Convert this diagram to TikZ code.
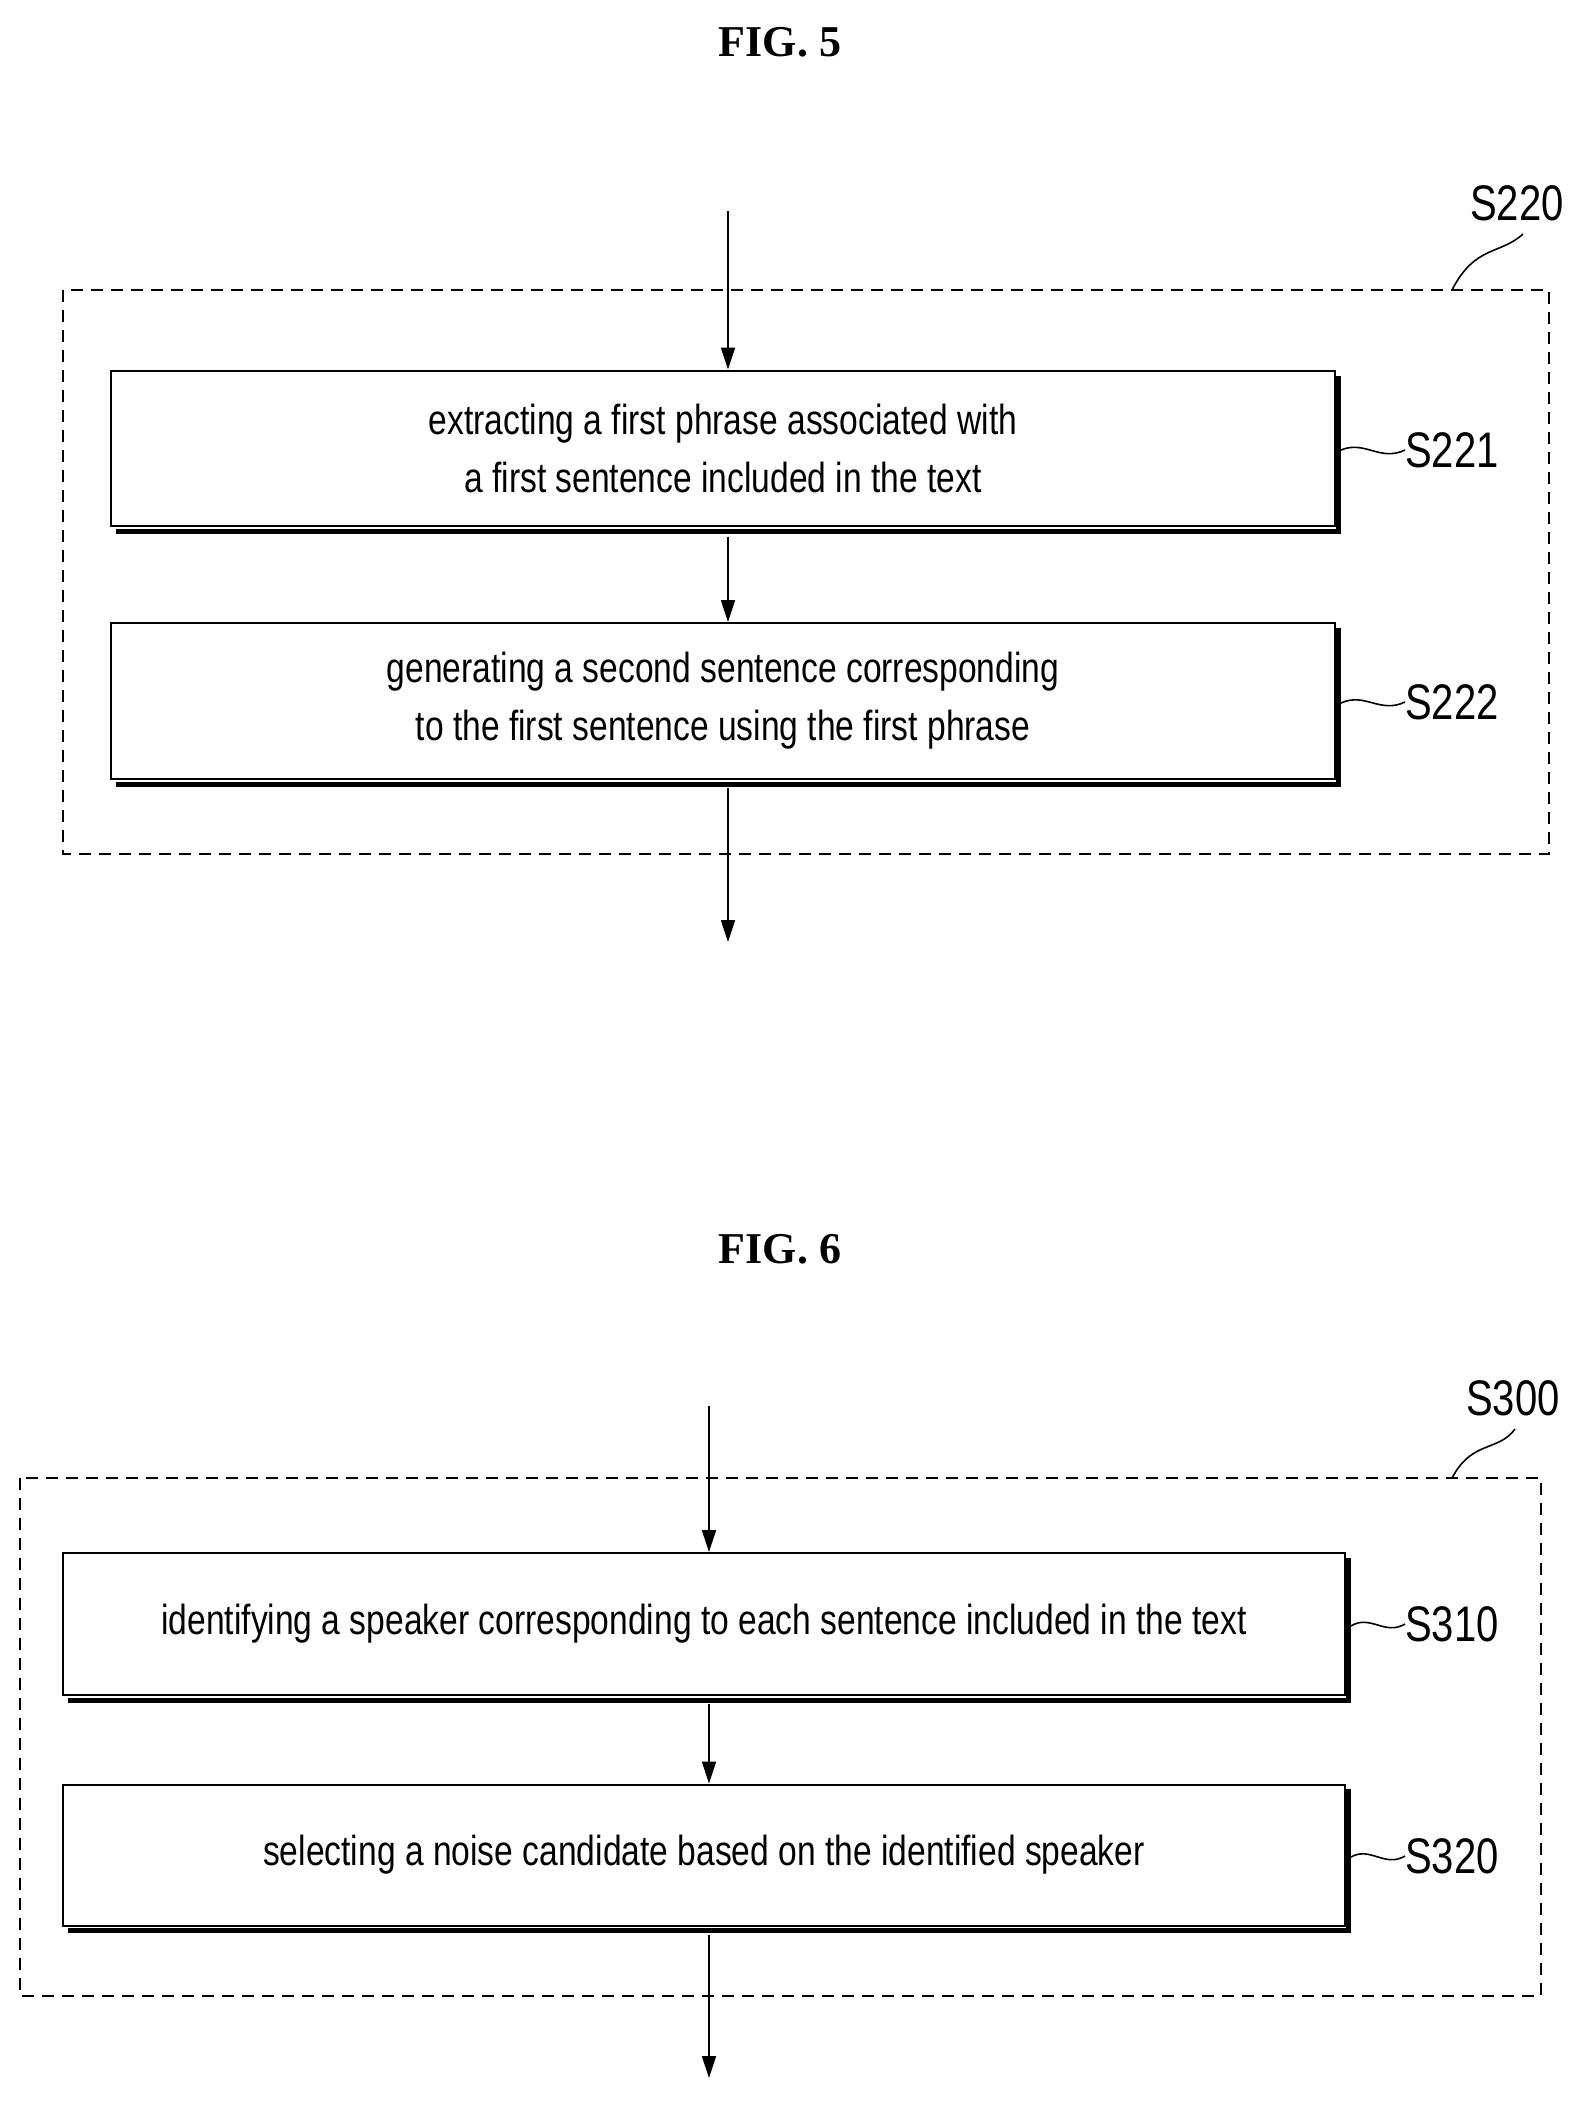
\documentclass[tikz,border=0pt]{standalone}
\usepackage{fontspec}
\setmainfont{Liberation Sans}
\newfontfamily\narrowfont[FakeStretch=0.8]{Liberation Sans}
\newfontfamily\figfont{Liberation Serif}
\usetikzlibrary{arrows.meta}

\tikzset{
    stepbox/.style={draw, line width=2pt, fill=white, font=\narrowfont\fontsize{42}{58}\selectfont, align=center, inner sep=0pt},
    shadowline/.style={line width=5pt},
    group/.style={draw, line width=1.6pt, dash pattern=on 12pt off 8pt},
    flow/.style={line width=1.8pt, -{Triangle[length=22pt,width=14pt]}},
    tag/.style={font=\narrowfont\fontsize{50}{50}\selectfont, anchor=west, inner sep=0pt},
    figtitle/.style={font=\figfont\bfseries\fontsize{44}{44}\selectfont},
}

\begin{document}
\begin{tikzpicture}[x=1pt, y=-1pt]
    \useasboundingbox (0,0) rectangle (1592,2104);

    % FIG. 5
    \node[figtitle] (title5) at (780,42) {FIG. 5};
    \draw[group] (63,290) rectangle (1549,854);
    \node[tag] (lbl220) at (1470,203) {S220};
    \coordinate (top220) at (1452,290);
    \draw[line width=1.6pt] (top220) .. controls (1475,245) and (1500,255) .. (1523,234);

    \draw[shadowline] (1338,376) -- (1338,531) -- (116,531);
    \node[stepbox, minimum width=1224pt, minimum height=155pt] (s221) at (723,448) {extracting a first phrase associated with\\a first sentence included in the text};
    \draw[shadowline] (1338,628) -- (1338,784) -- (116,784);
    \node[stepbox, minimum width=1224pt, minimum height=156pt] (s222) at (723,701) {generating a second sentence corresponding\\to the first sentence using the first phrase};

    \node[tag] (lbl221) at (1405,450) {S221};
    \node[tag] (lbl222) at (1405,702) {S222};
    \draw[line width=1.6pt] (s221.east) ++(5,2) .. controls (1365,440) and (1380,462) .. (lbl221.west);
    \draw[line width=1.6pt] (s222.east) ++(5,2) .. controls (1365,692) and (1380,714) .. (lbl222.west);

    \coordinate (in5) at (728,211);
    \coordinate (out5) at (728,942);
    \draw[flow] (in5) -- (s221.north -| in5);
    \draw[flow] (s221.south -| in5) ++(0,10) -- (s222.north -| in5);
    \draw[flow] (s222.south -| in5) ++(0,8) -- (out5);

    % FIG. 6
    \node[figtitle] (title6) at (780,1249) {FIG. 6};
    \draw[group] (20,1478) rectangle (1541,1996);
    \node[tag] (lbl300) at (1466,1398) {S300};
    \coordinate (top300) at (1452,1478);
    \draw[line width=1.6pt] (top300) .. controls (1472,1440) and (1498,1452) .. (1515,1429);

    \draw[shadowline] (1348,1558) -- (1348,1700) -- (68,1700);
    \node[stepbox, minimum width=1282pt, minimum height=142pt] (s310) at (704,1624) {identifying a speaker corresponding to each sentence included in the text};
    \draw[shadowline] (1348,1789) -- (1348,1930) -- (68,1930);
    \node[stepbox, minimum width=1282pt, minimum height=141pt] (s320) at (704,1855) {selecting a noise candidate based on the identified speaker};

    \node[tag] (lbl310) at (1405,1624) {S310};
    \node[tag] (lbl320) at (1405,1856) {S320};
    \draw[line width=1.6pt] (s310.east) ++(5,2) .. controls (1370,1614) and (1385,1636) .. (lbl310.west);
    \draw[line width=1.6pt] (s320.east) ++(5,2) .. controls (1370,1846) and (1385,1868) .. (lbl320.west);

    \coordinate (in6) at (709,1406);
    \coordinate (out6) at (709,2078);
    \draw[flow] (in6) -- (s310.north -| in6);
    \draw[flow] (s310.south -| in6) ++(0,8) -- (s320.north -| in6);
    \draw[flow] (s320.south -| in6) ++(0,8) -- (out6);
\end{tikzpicture}
\end{document}
